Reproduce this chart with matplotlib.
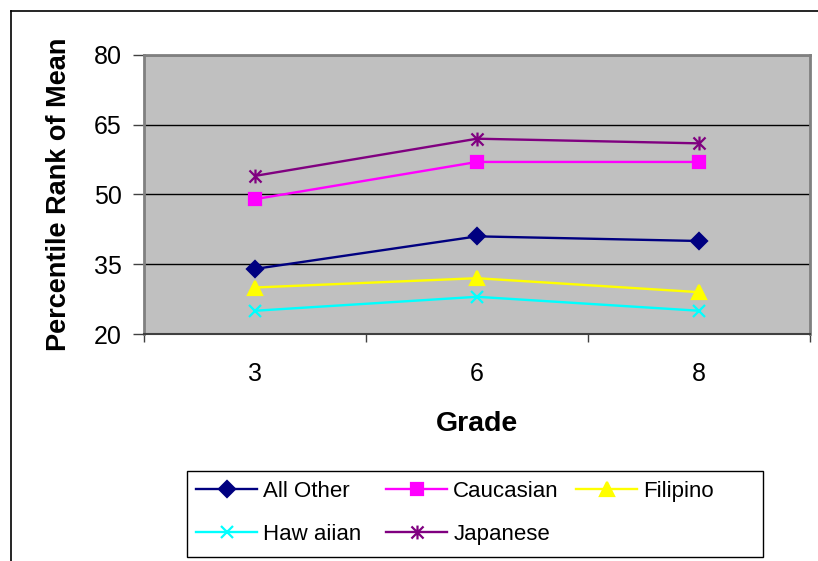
import matplotlib
matplotlib.use("Agg")
import matplotlib.pyplot as plt
from matplotlib.path import Path
from matplotlib.lines import Line2D
from matplotlib.patches import Rectangle
import numpy as np

plt.rcParams['font.family'] = ['Liberation Sans', 'DejaVu Sans']

grades = ["3", "6", "8"]
all_other = [34, 41, 40]
caucasian = [49, 57, 57]
filipino = [30, 32, 29]
hawaiian = [25, 28, 25]
japanese = [54, 62, 61]
y_ticks = [20, 35, 50, 65, 80]

# asterisk marker: vertical bar plus two diagonals
star_path = Path(
    [(0, -1), (0, 1), (-0.87, -0.87), (0.87, 0.87), (-0.87, 0.87), (0.87, -0.87)],
    [Path.MOVETO, Path.LINETO, Path.MOVETO, Path.LINETO, Path.MOVETO, Path.LINETO],
)

W, H = 818, 561
fig = plt.figure(figsize=(W / 100, H / 100), dpi=100)
fig.patch.set_facecolor("white")

# chart frame (top and left edges visible)
fig.add_artist(Line2D([11 / W, 11 / W], [0, 1 - 11 / H], transform=fig.transFigure,
                      color="black", lw=1.2))
fig.add_artist(Line2D([11 / W, 1], [1 - 11 / H, 1 - 11 / H], transform=fig.transFigure,
                      color="black", lw=1.2))

ax = fig.add_axes([144 / W, 1 - 334 / H, 666 / W, 279 / H])
ax.set_facecolor("#C0C0C0")

x = np.arange(len(grades))
series = [
    ("All Other", all_other, "#000080", "D", 8),
    ("Caucasian", caucasian, "#FF00FF", "s", 9),
    ("Filipino", filipino, "#FFFF00", "^", 10),
    ("Haw aiian", hawaiian, "#00FFFF", "x", 9),
    ("Japanese", japanese, "#800080", star_path, 10),
]
handles = {}
for name, vals, col, mk, ms in series:
    (h,) = ax.plot(x, vals, color=col, lw=1.7, marker=mk, markersize=ms,
                   markerfacecolor=col, markeredgecolor=col, markeredgewidth=1.6,
                   label=name, zorder=3)
    handles[name] = h

ax.set_xlim(-0.5, len(grades) - 0.5)
ax.set_ylim(20, 80)
ax.set_yticks(y_ticks)
ax.set_yticklabels([str(v) for v in y_ticks], fontsize=18)
ax.yaxis.grid(True, color="black", lw=1.0)
ax.set_axisbelow(True)

# category boundaries as tick marks, labels at category centres
ax.set_xticks(np.arange(-0.5, len(grades), 1.0))
ax.set_xticklabels([])
ax.set_xticks(x, minor=True)
ax.set_xticklabels(grades, minor=True, fontsize=18)
ax.tick_params(axis="x", which="major", length=6, width=1, color="#404040", direction="out")
ax.tick_params(axis="x", which="minor", length=0, pad=20)
ax.tick_params(axis="y", length=8, width=1, color="#404040", direction="out", pad=8)

for side in ["top", "right", "left"]:
    ax.spines[side].set_color("#808080")
    ax.spines[side].set_linewidth(2)
ax.spines["bottom"].set_color("#404040")
ax.spines["bottom"].set_linewidth(1.5)

ax.set_ylabel("Percentile Rank of Mean", fontsize=19.5, fontweight="bold", labelpad=16)
ax.set_xlabel("Grade", fontsize=20.5, fontweight="bold", labelpad=18)

# legend: box plus three equal-width columns
fig.add_artist(Rectangle((187 / W, 1 - 557 / H), 576 / W, 86 / H, transform=fig.transFigure,
                         facecolor="white", edgecolor="black", lw=1.0, zorder=1))
columns = [["All Other", "Haw aiian"], ["Caucasian", "Japanese"], ["Filipino"]]
col_x = [196, 386, 576]
for names, cx in zip(columns, col_x):
    fig.legend([handles[n] for n in names], names, loc="upper left",
               bbox_to_anchor=(cx / W, 1 - 481 / H), borderaxespad=0, borderpad=0,
               fontsize=16, handlelength=2.75, handletextpad=0.28, labelspacing=0.97,
               frameon=False)

fig.savefig("out.png", dpi=100)
